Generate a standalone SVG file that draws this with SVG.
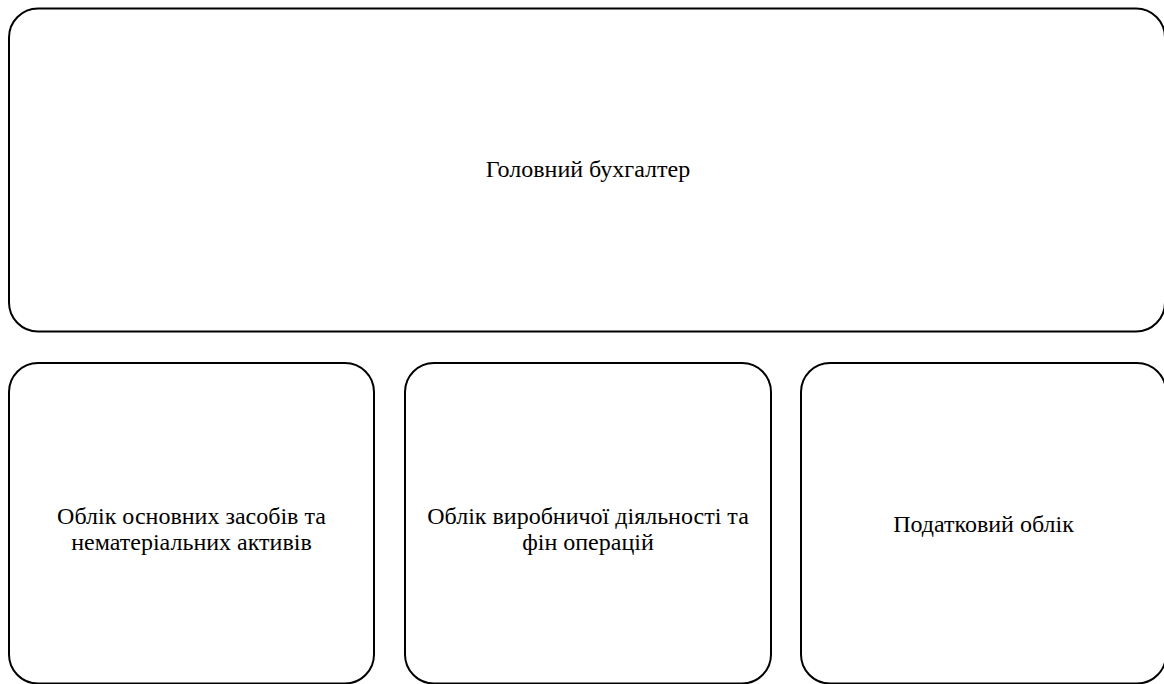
<svg xmlns="http://www.w3.org/2000/svg" width="1164" height="684" viewBox="0 0 1164 684">
<style>
.box{fill:#fff;stroke:#000;stroke-width:2}
.t{font-family:"Liberation Serif","Times New Roman",serif;font-size:24px;fill:#000;text-anchor:middle}
</style>
<rect width="1164" height="684" fill="#fff"/>
<g id="node-head"><rect class="box" x="9" y="8.5" width="1156" height="323" rx="29" ry="29"/><text class="t" x="588" y="177">Головний бухгалтер</text></g>
<g id="node-fixed-assets"><rect class="box" x="9" y="363" width="365" height="320.5" rx="29" ry="29"/><text class="t" x="191.5" y="524">Облік основних засобів та</text><text class="t" x="191.5" y="550">нематеріальних активів</text></g>
<g id="node-production"><rect class="box" x="405" y="363" width="366" height="320.5" rx="29" ry="29"/><text class="t" x="588" y="524">Облік виробничої діяльності та</text><text class="t" x="588" y="550">фін операцій</text></g>
<g id="node-tax"><rect class="box" x="801" y="363" width="365" height="320.5" rx="29" ry="29"/><text class="t" x="983.5" y="532">Податковий облік</text></g>
<g id="connectors"/>
</svg>
